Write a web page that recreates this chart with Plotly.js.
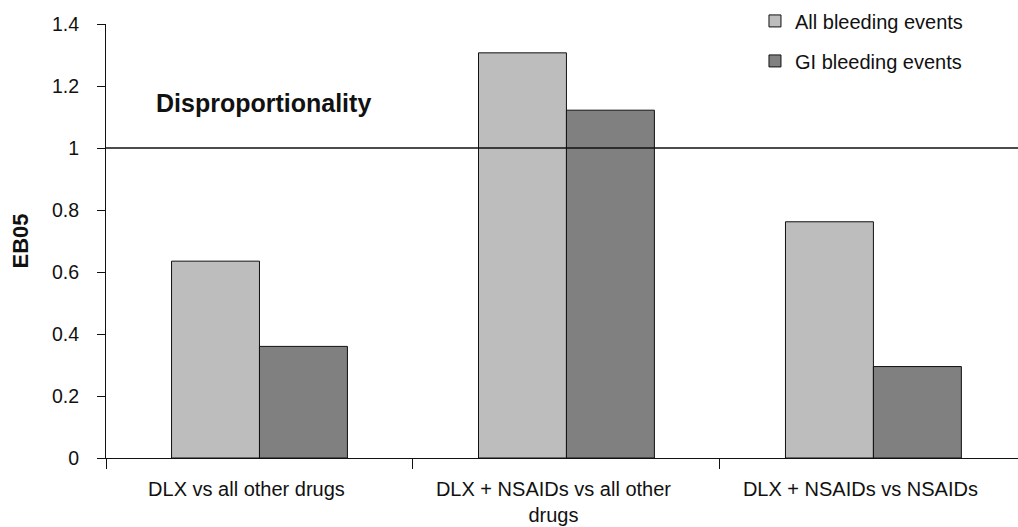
<!DOCTYPE html>
<html>
<head>
<meta charset="utf-8">
<script src="https://cdn.plot.ly/plotly-3.0.1.min.js"></script>
<style>html,body{margin:0;padding:0;background:#fff;}#chart{width:1018px;height:527px;}</style>
</head>
<body>
<div id="chart"></div>
<script>
const categories = ["DLX vs all other drugs", "DLX + NSAIDs vs all other<br>drugs", "DLX + NSAIDs vs NSAIDs"];
const allBleeding = [0.635, 1.307, 0.762];
const giBleeding = [0.360, 1.122, 0.295];
const seriesNames = ["All bleeding events", "GI bleeding events"];
const referenceLevel = 1;
const yTicks = [0, 0.2, 0.4, 0.6, 0.8, 1, 1.2, 1.4];

const font = "Liberation Sans, Arial, sans-serif";

const traces = [
  {type: "bar", name: seriesNames[0], x: categories, y: allBleeding, legendgroup: "a",
   marker: {color: "#bdbdbd", line: {color: "#111", width: 1}}},
  {type: "bar", name: seriesNames[1], x: categories, y: giBleeding, legendgroup: "b",
   marker: {color: "#808080", line: {color: "#111", width: 1}}}
];

const layout = {
  width: 1018, height: 527,
  margin: {l: 106, r: 0, t: 24, b: 69},
  paper_bgcolor: "#fff", plot_bgcolor: "#fff",
  font: {family: font, size: 20, color: "#111"},
  barmode: "group", bargap: 0.427, bargroupgap: 0,
  showlegend: true,
  legend: {x: 0.7116, xanchor: "left", y: 1.052, yanchor: "top", tracegroupgap: 11,
           font: {family: font, size: 20, color: "#111"}, bgcolor: "rgba(0,0,0,0)"},
  xaxis: {type: "category", range: [-0.5, 2.471], tickson: "boundaries", ticks: "outside",
          ticklen: 10, tickcolor: "#111", showline: true, linecolor: "#111", linewidth: 1,
          showgrid: false, zeroline: false, ticklabelshift: -13, ticklabelstandoff: 13,
          tickfont: {family: font, size: 20, color: "#111"}},
  yaxis: {range: [0, 1.4], tickvals: yTicks, ticks: "outside", ticklen: 8, tickcolor: "#111",
          showline: true, linecolor: "#111", linewidth: 1, showgrid: false, zeroline: false,
          ticklabelstandoff: 14,
          tickfont: {family: font, size: 19.5, color: "#111"},
          title: {text: "<b>EB05</b>", font: {family: font, size: 22, color: "#111"}, standoff: 17}},
  shapes: [{type: "line", xref: "paper", x0: 0, x1: 1, yref: "y", y0: referenceLevel, y1: referenceLevel,
            line: {color: "#111", width: 1.5}}],
  annotations: [{text: "<b>Disproportionality</b>", xref: "paper", yref: "y", x: 0.173, y: 1.145,
                 xanchor: "center", yanchor: "middle", showarrow: false,
                 font: {family: font, size: 25, color: "#111"}}]
};

Plotly.newPlot("chart", traces, layout, {displayModeBar: false, staticPlot: true});
</script>
</body>
</html>
